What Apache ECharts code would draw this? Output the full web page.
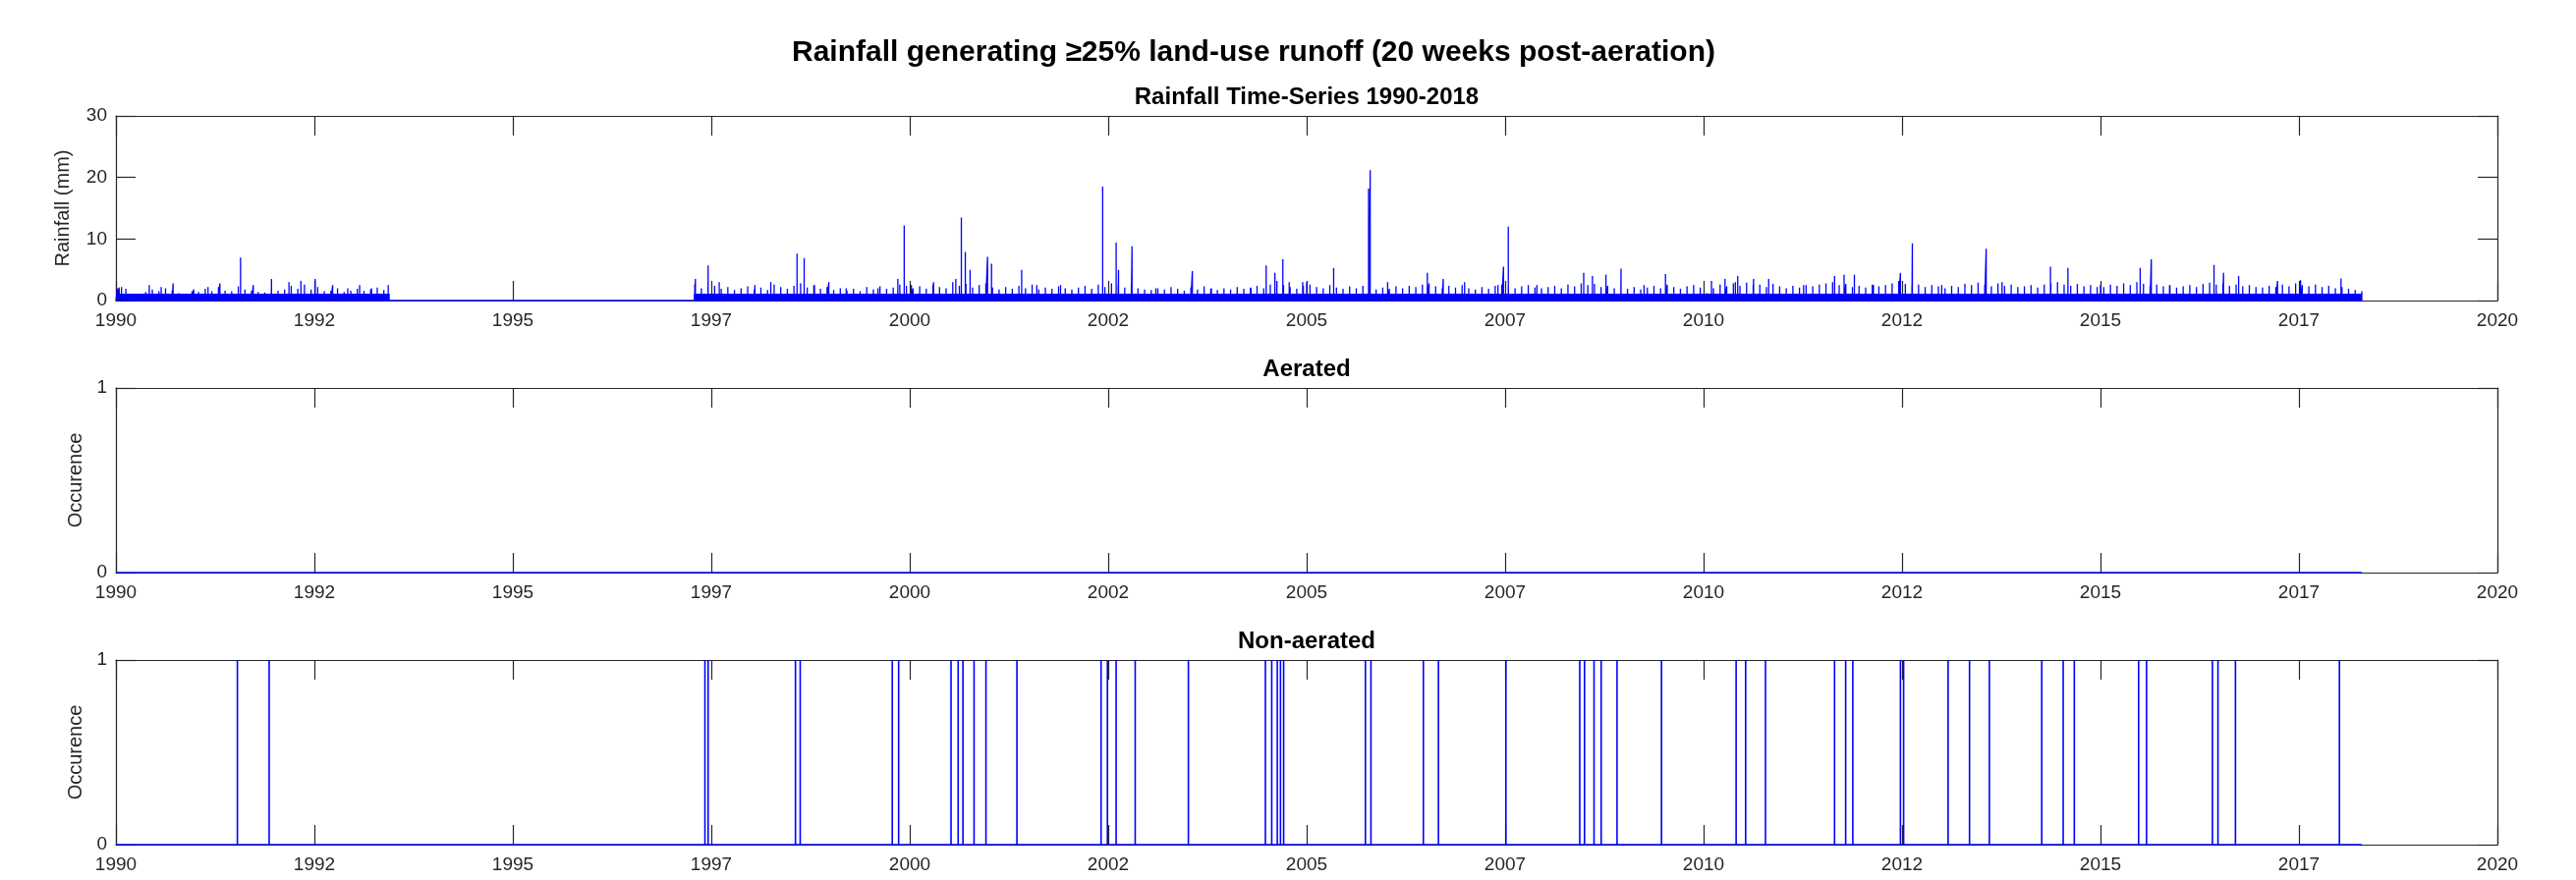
<!DOCTYPE html>
<html><head><meta charset="utf-8">
<script src="https://cdn.jsdelivr.net/npm/echarts@6/dist/echarts.min.js"></script>
<style>html,body{margin:0;padding:0;background:#fff}#c{width:2622px;height:896px}</style>
</head><body><div id="c"></div>
<script>
// ---- data ----
const xMin = 1990, xMax = 2020, xStep = 2.5;
const recordEnd = 2018.29;
// notable rainfall spikes (decimal year, mm)
const rainPeakTimes = [1990.02,1990.07,1990.42,1990.57,1990.72,1990.98,1991.16,1991.31,1991.57,1991.73,1991.96,1992.18,1992.33,1992.51,1992.73,1992.92,1993.07,1993.22,1993.43,
 1997.30,1997.46,1997.60,1998.05,1998.25,1998.58,1998.67,1998.80,1998.98,1999.20,1999.60,1999.85,1999.93,2000.02,2000.30,2000.58,2000.65,2000.70,2000.76,2000.98,2001.03,2001.41,2001.60,2001.90,
 2002.43,2002.60,2002.63,2002.80,2003.10,2003.56,2003.80,2004.30,2004.49,2004.60,2004.70,2004.78,2004.95,2005.00,2005.34,2005.78,2005.80,2006.02,2006.52,2006.72,2006.99,
 2007.41,2007.48,2007.54,2007.90,2008.49,2008.60,2008.77,2008.96,2009.25,2009.52,2010.10,2010.27,2010.40,2010.43,2010.63,2010.82,2011.26,2011.65,2011.77,2011.90,
 2012.14,2012.48,2012.63,2013.00,2013.56,2013.76,2014.37,2014.59,2015.00,2015.50,2015.64,2015.87,2016.43,2016.55,2016.74,2017.23,2017.52,2018.03];
const rainPeakValues = [2.0,2.2,2.5,2.2,2.8,1.8,2.2,2.8,7.0,2.5,3.5,3.0,3.2,3.5,2.5,2.0,2.5,2.0,2.5,
 3.5,5.7,3.0,2.5,3.0,7.6,6.9,2.5,3.0,2.0,2.0,3.5,12.2,2.5,3.0,3.5,13.5,7.9,5.0,7.1,6.0,5.0,2.5,2.5,
 18.5,9.4,5.0,8.8,2.0,4.8,2.0,2.0,5.7,4.5,6.7,3.0,3.0,3.0,5.3,18.2,21.2,3.0,4.5,3.5,3.0,
 2.5,5.5,12.0,2.5,4.5,4.0,4.2,5.2,2.5,4.3,3.2,3.5,3.0,4.0,3.5,3.5,2.5,4.0,4.2,4.2,
 2.5,4.5,9.3,2.5,8.4,3.0,5.5,5.3,2.5,5.3,6.7,2.5,5.8,4.5,4.0,3.2,3.3,3.6];
// monthly maxima of the dense background rain (mm)
const rainMonthlyStartA = 1990.0;   // Jan 1990 - May 1993
const rainMonthlyA = [2.1,1.9,1.1,1.0,1.4,1.8,1.5,2.0,1.6,1.2,1.0,1.5,
 1.4,1.9,1.5,2.2,1.6,1.5,2.3,1.8,1.6,1.4,1.3,1.9,
 1.6,1.8,2.4,1.9,2.6,1.8,2.2,1.5,1.6,2.0,1.4,1.6,
 1.9,1.6,1.8,2.1,1.7];
const rainMonthlyStartB = 1997.25;  // Apr 1997 - Apr 2018
const rainMonthlyB = [2.6,2.0,1.8,2.4,1.9,2.2,1.7,2.0,2.3,
 1.8,2.1,1.7,2.6,2.2,1.9,2.4,2.8,2.1,2.5,1.9,2.2,
 1.7,2.0,1.6,1.9,1.5,2.2,1.8,2.3,1.9,2.1,2.6,2.4,
 2.0,2.3,1.9,2.6,2.2,2.0,3.0,2.4,2.7,2.1,2.5,2.8,
 2.1,1.8,2.2,1.9,2.4,2.0,2.6,1.8,2.1,1.9,2.3,2.0,
 1.8,2.1,2.4,1.9,2.6,2.2,2.8,2.4,2.1,2.6,2.0,1.8,
 1.7,2.0,1.8,2.2,1.9,1.6,2.1,1.8,2.3,1.9,1.7,2.0,
 1.8,2.2,1.9,2.1,2.4,2.0,2.6,3.2,2.5,2.2,1.9,2.4,
 2.6,2.2,2.0,2.5,2.1,1.9,2.3,2.0,2.4,2.2,1.8,2.1,
 1.9,2.3,2.0,2.4,2.2,2.6,2.8,2.3,2.0,2.4,2.1,2.5,
 2.0,1.8,2.2,1.9,2.4,2.6,2.2,2.0,2.3,2.5,2.1,2.0,
 2.2,2.4,2.0,2.6,2.3,2.8,2.5,2.7,2.2,2.4,2.0,2.3,
 1.9,2.2,1.8,2.1,2.4,2.0,2.6,2.2,1.9,2.3,2.5,2.1,
 1.2,2.0,2.6,2.3,2.8,2.4,2.9,2.5,2.6,2.2,2.7,2.3,
 2.0,2.4,2.1,2.5,2.3,2.6,2.8,3.0,2.5,2.7,2.2,2.4,
 2.1,2.6,2.3,2.5,2.8,3.2,2.7,2.4,2.6,2.2,2.5,2.3,
 2.0,2.4,2.2,2.7,2.5,2.9,2.6,2.3,2.8,2.4,2.6,2.2,
 2.3,2.5,2.1,2.6,2.8,3.0,2.6,2.4,2.7,2.3,2.5,2.2,
 2.2,2.6,2.4,2.8,2.5,3.0,2.7,2.4,2.6,2.3,2.5,2.1,
 2.3,2.5,2.2,2.7,2.9,2.6,2.8,2.4,2.6,2.3,2.5,2.2,
 2.1,2.4,2.2,2.6,2.3,2.8,2.5,2.3,2.6,2.2,2.4,2.0,
 2.2,1.9,1.7,1.5];
// solid low-rain band (mm) between break points
const rainFloorTimes = [1990.00,1993.45,1993.45,1997.28,1997.28,2018.29];
const rainFloorValues = [1.1,1.1,0,0,1.1,1.1];
const aeratedEvents = [];
const nonAeratedEvents = [1991.53,1991.93,1997.42,1997.46,1998.56,1998.62,1999.78,1999.86,2000.52,2000.61,2000.67,2000.81,2000.96,2001.35,
 2002.41,2002.49,2002.60,2002.84,2003.51,2004.48,2004.56,2004.63,2004.67,2004.71,2005.74,2005.81,2006.47,2006.66,2007.51,
 2008.44,2008.50,2008.62,2008.71,2008.91,2009.47,2010.41,2010.53,2010.78,2011.65,2011.79,2011.88,2012.48,2012.52,2013.08,2013.35,2013.60,
 2014.26,2014.53,2014.67,2015.48,2015.58,2016.41,2016.48,2016.70,2018.01];
const mainTitle = 'Rainfall generating \u226525% land-use runoff (20 weeks post-aeration)';
const subTitles = ['Rainfall Time-Series 1990-2018', 'Aerated', 'Non-aerated'];
const yNames = ['Rainfall (mm)', 'Occurence', 'Occurence'];

// ---- build spike series through the axes ----
function spikes(pairs, start, end) {
  const d = [[start, 0]];
  pairs.slice().sort((a, b) => a[0] - b[0]).forEach(p => { d.push([p[0], 0], [p[0], p[1]], [p[0], 0]); });
  d.push([end, 0]);
  return d;
}
const rainPairs = rainPeakTimes.map((t, i) => [t, rainPeakValues[i]])
  .concat(rainMonthlyA.map((v, i) => [rainMonthlyStartA + (i + 0.5) / 12, v]))
  .concat(rainMonthlyB.map((v, i) => [rainMonthlyStartB + (i + 0.5) / 12, v]));

const blue = '#0000ff', ink = '#262626';
const font = '"Liberation Sans", Arial, Helvetica, sans-serif';
const L = 118, W = 2424, H = 188, tops = [118, 395, 672];

const grids = tops.map(t => ({left: L, top: t, width: W, height: H}));
const xAxes = [], yAxes = [];
tops.forEach((t, gi) => {
  ['bottom', 'top'].forEach(pos => xAxes.push({
    type: 'value', gridIndex: gi, position: pos, min: xMin, max: xMax, interval: xStep,
    axisLine: {show: true, onZero: false, lineStyle: {color: ink, width: 1.2}},
    axisTick: {show: true, inside: true, length: 20, lineStyle: {color: ink, width: 1.2}},
    axisLabel: {show: pos === 'bottom', margin: 11, fontSize: 19, color: ink, fontFamily: font,
      showMinLabel: true, showMaxLabel: true, formatter: v => String(Math.floor(v + 1e-6))},
    splitLine: {show: false}
  }));
  const ymax = gi === 0 ? 30 : 1, yint = gi === 0 ? 10 : 1;
  ['left', 'right'].forEach(pos => yAxes.push({
    type: 'value', gridIndex: gi, position: pos, min: 0, max: ymax, interval: yint,
    name: pos === 'left' ? yNames[gi] : '', nameLocation: 'middle', nameRotate: 90,
    nameGap: gi === 0 ? 44 : 30,
    nameTextStyle: {fontSize: 20, color: ink, fontFamily: font},
    axisLine: {show: true, onZero: false, lineStyle: {color: ink, width: 1.2}},
    axisTick: {show: true, inside: true, length: 20, lineStyle: {color: ink, width: 1.2}},
    axisLabel: {show: pos === 'left', margin: 9, fontSize: 19, color: ink, fontFamily: font},
    splitLine: {show: false}
  }));
});

const series = [
  {type: 'line', xAxisIndex: 0, yAxisIndex: 0, data: rainFloorTimes.map((t, i) => [t, rainFloorValues[i]]),
    showSymbol: false, silent: true, lineStyle: {width: 0}, areaStyle: {color: blue, opacity: 1}, z: 2},
  {type: 'line', xAxisIndex: 0, yAxisIndex: 0, data: spikes(rainPairs, xMin, recordEnd),
    showSymbol: false, silent: true, lineStyle: {color: blue, width: 1.3}, z: 3},
  {type: 'line', xAxisIndex: 2, yAxisIndex: 2, data: spikes(aeratedEvents.map(t => [t, 1]), xMin, recordEnd),
    showSymbol: false, silent: true, lineStyle: {color: blue, width: 1.6}, z: 3},
  {type: 'line', xAxisIndex: 4, yAxisIndex: 4, data: spikes(nonAeratedEvents.map(t => [t, 1]), xMin, recordEnd),
    showSymbol: false, silent: true, lineStyle: {color: blue, width: 1.6}, z: 3}
];

const titleY = [99, 376, 653];
const graphic = [{type: 'text', x: 1276, y: 54, style: {text: mainTitle, fontSize: 30, fontWeight: 'bold', fontFamily: font, fill: '#000', textAlign: 'center', textVerticalAlign: 'middle'}}]
  .concat(subTitles.map((s, i) => ({type: 'text', x: L + W / 2, y: titleY[i],
    style: {text: s, fontSize: 24, fontWeight: 'bold', fontFamily: font, fill: '#000', textAlign: 'center', textVerticalAlign: 'middle'}})));

const chart = echarts.init(document.getElementById('c'), null, {renderer: 'canvas'});
chart.setOption({animation: false, backgroundColor: '#fff', grid: grids, xAxis: xAxes, yAxis: yAxes, series: series, graphic: graphic});
</script></body></html>
